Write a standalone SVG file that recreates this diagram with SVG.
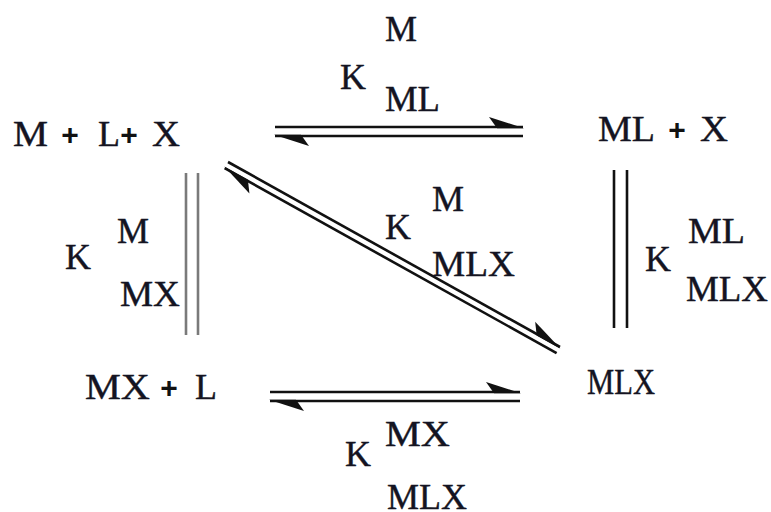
<svg xmlns="http://www.w3.org/2000/svg" width="771" height="512" viewBox="0 0 771 512">
<style>
.t{font-family:"Liberation Serif","Times New Roman",serif;font-size:36px;fill:#141422;stroke:#141422;stroke-width:0.4}
.p{font-family:"Liberation Sans",Arial,sans-serif;font-weight:bold;font-size:30px;fill:#111}
.ln{stroke:#111;stroke-width:2.6;fill:none}
.gr{stroke:#7a7a7a;stroke-width:2.6;fill:none}
</style>
<defs>
<marker id="half" markerUnits="userSpaceOnUse" markerWidth="40" markerHeight="20" refX="0" refY="0" orient="auto" overflow="visible">
<path d="M1,1.2 L-34,-10 L-26,1.2 Z" fill="#111"/>
</marker>
</defs>
<rect width="771" height="512" fill="#fff"/>
<g id="connectors">
<line class="ln" x1="275" y1="127" x2="523" y2="127" marker-end="url(#half)"/>
<line class="ln" x1="523" y1="136" x2="275" y2="136" marker-end="url(#half)"/>
<line class="gr" x1="186" y1="173" x2="186" y2="335"/>
<line class="gr" x1="198" y1="173" x2="198" y2="335"/>
<line class="ln" x1="614" y1="170" x2="614" y2="328"/>
<line class="ln" x1="627" y1="170" x2="627" y2="328"/>
<line class="ln" x1="228" y1="162" x2="560" y2="347" marker-end="url(#half)"/>
<line class="ln" x1="556.6" y1="353.1" x2="224.6" y2="168.1" marker-end="url(#half)"/>
<line class="ln" x1="270" y1="392" x2="520" y2="392" marker-end="url(#half)"/>
<line class="ln" x1="520" y1="401" x2="270" y2="401" marker-end="url(#half)"/>
</g>
<g id="node-MLX-free">
<text class="t" x="13" y="146" textLength="35" lengthAdjust="spacingAndGlyphs">M</text>
<text class="p" x="70" y="145" text-anchor="middle">+</text>
<text class="t" x="98" y="146">L</text>
<text class="p" x="129" y="145" text-anchor="middle">+</text>
<text class="t" x="152" y="146" textLength="28" lengthAdjust="spacingAndGlyphs">X</text>
</g>
<g id="node-ML-X">
<text class="t" x="598" y="141" textLength="57" lengthAdjust="spacingAndGlyphs">ML</text>
<text class="p" x="677" y="140" text-anchor="middle">+</text>
<text class="t" x="700" y="141" textLength="28" lengthAdjust="spacingAndGlyphs">X</text>
</g>
<g id="node-MX-L">
<text class="t" x="85" y="399" textLength="65" lengthAdjust="spacingAndGlyphs">MX</text>
<text class="p" x="169" y="398" text-anchor="middle">+</text>
<text class="t" x="195" y="399">L</text>
</g>
<g id="node-MLX">
<text class="t" x="587" y="394" textLength="68" lengthAdjust="spacingAndGlyphs">MLX</text>
</g>
<g id="label-top">
<text class="t" x="340" y="89">K</text>
<text class="t" x="385" y="41">M</text>
<text class="t" x="385" y="111" textLength="55" lengthAdjust="spacingAndGlyphs">ML</text>
</g>
<g id="label-diag">
<text class="t" x="385" y="239">K</text>
<text class="t" x="432" y="211">M</text>
<text class="t" x="432" y="276" textLength="83" lengthAdjust="spacingAndGlyphs">MLX</text>
</g>
<g id="label-left">
<text class="t" x="65" y="269">K</text>
<text class="t" x="117" y="243">M</text>
<text class="t" x="120" y="306" textLength="60" lengthAdjust="spacingAndGlyphs">MX</text>
</g>
<g id="label-right">
<text class="t" x="645" y="271">K</text>
<text class="t" x="688" y="243" textLength="57" lengthAdjust="spacingAndGlyphs">ML</text>
<text class="t" x="686" y="301" textLength="82" lengthAdjust="spacingAndGlyphs">MLX</text>
</g>
<g id="label-bottom">
<text class="t" x="345" y="466">K</text>
<text class="t" x="385" y="446" textLength="65" lengthAdjust="spacingAndGlyphs">MX</text>
<text class="t" x="387" y="509" textLength="80" lengthAdjust="spacingAndGlyphs">MLX</text>
</g>
</svg>
